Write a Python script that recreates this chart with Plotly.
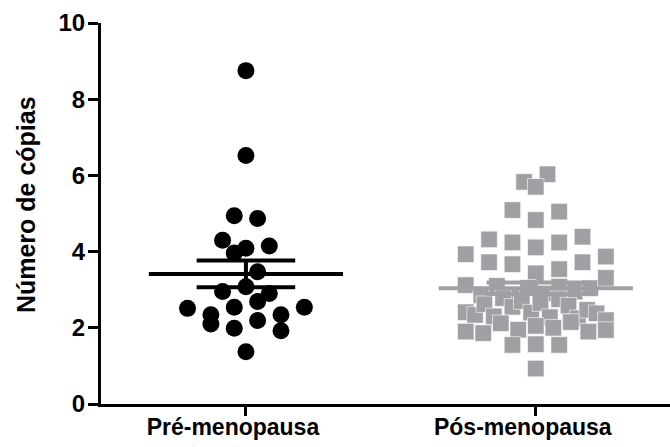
import numpy as np
import plotly.graph_objects as go

# Copy-number values per group (listed row by row, left to right)
groups = ["Pré-menopausa", "Pós-menopausa"]
pre_values = [8.75, 6.52, 4.94, 4.87, 4.30, 4.09, 4.15, 3.96, 3.47,
              2.95, 3.08, 2.90, 2.51, 2.34, 2.54, 2.69, 2.34, 2.54,
              2.10, 1.99, 2.19, 1.92, 1.37]
pos_values = [5.83, 6.03, 5.70, 5.09, 4.83, 5.05,
              4.32, 4.24, 4.11, 4.24, 4.39,
              3.93, 3.72, 3.67, 3.43, 3.54, 3.72, 3.87,
              3.12, 2.85, 3.10, 2.80, 3.05, 2.90, 3.08, 2.95, 3.04, 3.31,
              2.41, 2.34, 2.62, 2.30, 2.78, 2.55, 2.70, 2.40, 2.65, 2.28,
              2.75, 2.58, 2.25, 2.47, 2.38,
              1.90, 1.86, 2.12, 1.95, 2.05, 2.20, 2.00, 2.15, 1.90, 1.94,
              1.55, 1.57, 1.55, 0.93]
y_ticks = [0, 2, 4, 6, 8, 10]
y_title = "Número de cópias"

FONT = "Liberation Sans, Arial, sans-serif"
GRAY = "#a0a0a4"


def row_offsets(values, bin_h, anchor, step, max_cols):
    """Column-scatter layout: values are grouped into horizontal rows of
    height bin_h; each row is centred and squeezed to at most max_cols wide."""
    values = np.asarray(values, dtype=float)
    rows = np.floor((values - anchor) / bin_h).astype(int)
    offsets = np.zeros(len(values))
    for r in np.unique(rows):
        idx = np.where(rows == r)[0]
        n = len(idx)
        s = step if n <= max_cols else step * (max_cols - 1) / (n - 1)
        offsets[idx] = (np.arange(n) - (n - 1) / 2) * s
    return offsets


def mean_sem(values):
    a = np.asarray(values, dtype=float)
    return a.mean(), a.std(ddof=1) / np.sqrt(len(a))


STEP = 0.0806
fig = go.Figure()

series = [
    (0, pre_values, "circle", 17, "black"),
    (1, pos_values, "square", 16.5, GRAY),
]

for cx, vals, symbol, size, color in series:
    offs = row_offsets(vals, 0.6, 0.4, STEP, 7)
    line = dict(width=0) if symbol == "circle" else dict(width=0.8, color="rgba(255,255,255,0.75)")
    fig.add_trace(go.Scatter(
        x=cx + offs, y=vals, mode="markers",
        marker=dict(symbol=symbol, size=size, color=color, line=line),
        hoverinfo="y", showlegend=False,
    ))

for cx, vals, symbol, size, color in series:
    m, sem = mean_sem(vals)
    lw = 4
    # mean bar
    fig.add_trace(go.Scatter(x=[cx - 0.335, cx + 0.335], y=[m, m], mode="lines",
                             line=dict(color=color, width=lw), showlegend=False, hoverinfo="skip"))
    # SEM whisker with caps
    for yv in (m - sem, m + sem):
        fig.add_trace(go.Scatter(x=[cx - 0.17, cx + 0.17], y=[yv, yv], mode="lines",
                                 line=dict(color=color, width=lw), showlegend=False, hoverinfo="skip"))
    fig.add_trace(go.Scatter(x=[cx, cx], y=[m - sem, m + sem], mode="lines",
                             line=dict(color=color, width=lw), showlegend=False, hoverinfo="skip"))

fig.update_layout(
    width=670, height=447,
    margin=dict(l=101, r=0, t=23, b=43),
    paper_bgcolor="white", plot_bgcolor="white",
    xaxis=dict(
        range=[-0.5, 1.463], tickmode="array", tickvals=[0, 1], ticktext=groups,
        showline=True, linecolor="black", linewidth=3,
        ticks="outside", ticklen=9, tickwidth=3, tickcolor="black",
        showgrid=False, zeroline=False,
        tickfont=dict(family=FONT, size=23, color="black", weight="bold"),
        ticklabelstandoff=-9, ticklabelshift=-13,
    ),
    yaxis=dict(
        range=[0, 10], tickmode="array", tickvals=y_ticks,
        showline=True, linecolor="black", linewidth=3,
        ticks="outside", ticklen=10, tickwidth=3, tickcolor="black",
        showgrid=False, zeroline=False,
        tickfont=dict(family=FONT, size=24, color="black", weight="bold"),
        ticklabelstandoff=-2,
    ),
    annotations=[dict(
        text=y_title, textangle=-90, showarrow=False,
        xref="paper", yref="paper", x=0, y=0.522, xanchor="center", yanchor="middle",
        xshift=-75, font=dict(family=FONT, size=25, color="black", weight="bold"),
    )],
)

fig.write_html("out.html")
